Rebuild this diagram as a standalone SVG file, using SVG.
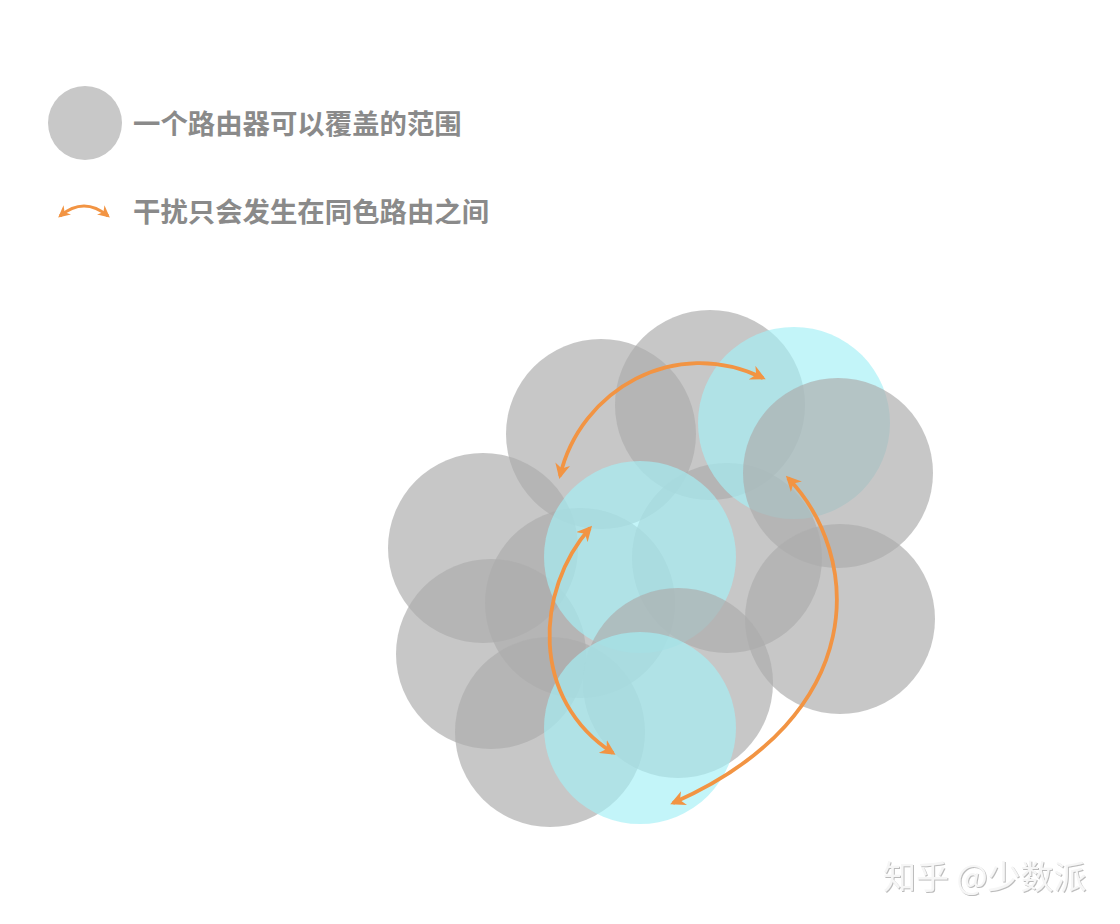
<svg xmlns="http://www.w3.org/2000/svg" width="1120" height="924" viewBox="0 0 1120 924">
<style>
.g{fill:#acacac;fill-opacity:0.68}
.c{fill:#a4f0f6;fill-opacity:0.66}
.arr{fill:none;stroke:#f29443;stroke-width:3.8;marker-start:url(#ah);marker-end:url(#ah)}
.arrs{fill:none;stroke:#f29443;stroke-width:3;marker-start:url(#ahs);marker-end:url(#ahs)}
.lg{font-family:"Noto Sans CJK SC","Noto Sans",sans-serif;font-size:27.4px;font-weight:bold;fill:#8a8a8a}
.wm{font-family:"Noto Sans CJK SC","Noto Sans",sans-serif;font-size:33px;fill:#f6f6f6;filter:url(#emb)}
</style>
<defs>
<marker id="ah" viewBox="0 0 10 10" refX="8" refY="5" markerWidth="4" markerHeight="4" orient="auto-start-reverse" markerUnits="strokeWidth">
<path d="M0,0 L10,5 L0,10 L3,5 Z" fill="#f29443"/>
</marker>
<marker id="ahs" viewBox="0 0 10 10" refX="8" refY="5" markerWidth="4" markerHeight="4" orient="auto-start-reverse" markerUnits="strokeWidth">
<path d="M0,0 L10,5 L0,10 L3,5 Z" fill="#f29443"/>
</marker>
<filter id="emb" x="-5%" y="-20%" width="110%" height="140%">
<feDropShadow dx="1" dy="1" stdDeviation="0.7" flood-color="#b4b4b4" flood-opacity="0.9"/>
</filter>
</defs>

<g id="legend-range">
<circle cx="85" cy="123" r="37" fill="#c8c8c8"/>
<text class="lg" x="133" y="134">一个路由器可以覆盖的范围</text>
</g>
<g id="legend-interference">
<path class="arrs" d="M60,216 Q84,196 108,216"/>
<text class="lg" x="133" y="222">干扰只会发生在同色路由之间</text>
</g>

<g id="routers">
<circle id="r1" class="g" cx="601" cy="434" r="95"/>
<circle id="r2" class="g" cx="710" cy="405" r="95"/>
<circle id="r5" class="g" cx="483" cy="548" r="95"/>
<circle id="r7" class="g" cx="580" cy="603" r="95"/>
<circle id="r8" class="g" cx="727" cy="558" r="95"/>
<circle id="r10" class="g" cx="491" cy="654" r="95"/>
<circle id="r12" class="g" cx="550" cy="732" r="95"/>
<circle id="r3" class="c" cx="794" cy="423" r="96"/>
<circle id="r4" class="g" cx="838" cy="473" r="95"/>
<circle id="r9" class="g" cx="840" cy="619" r="95"/>
<circle id="r6" class="c" cx="640" cy="557" r="96"/>
<circle id="r11" class="g" cx="678" cy="683" r="95"/>
<circle id="r13" class="c" cx="640" cy="728" r="96"/>
</g>

<g id="connectors">
<path class="arr" d="M560,476 C580,390 675,335 763,378"/>
<path class="arr" d="M590,528 C535,590 530,700 613,753"/>
<path class="arr" d="M788,478 C862,555 872,715 673,803"/>
</g>

<g id="watermark">
<text class="wm" x="883" y="889">知乎 @少数派</text>
</g>
</svg>
